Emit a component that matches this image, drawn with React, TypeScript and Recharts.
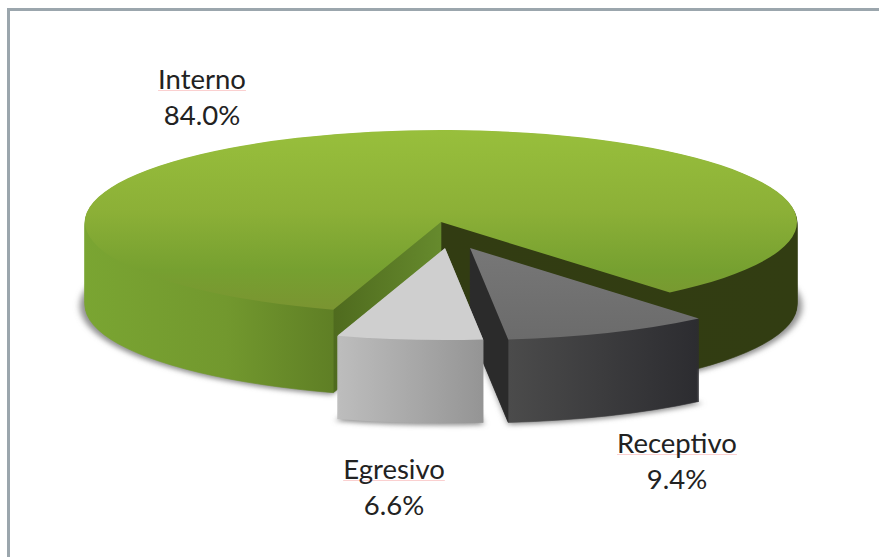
import { Cell, Pie, PieChart } from 'recharts';

const categories = ['Interno', 'Egresivo', 'Receptivo'];
const shares = [84.0, 6.6, 9.4];

const data = categories.map((name, i) => ({ name, value: shares[i] }));

// the pie is drawn round, then the whole chart is squashed to get the tilted ellipse
const SQUASH = 92 / 356;
const WIDTH = 879;
const HEIGHT = 557;
const RADIUS = 356;
const CX = 441;
const CY = 222;
const DEPTH = 83;
const STEP = 1;

const explode = [
  { dx: 0, dy: 0 },
  { dx: 4, dy: 26 },
  { dx: 29, dy: 26 },
];
// Egresivo sits in front of the wall of Receptivo
const drawOrder = [0, 2, 1];
const topFill = ['url(#greenTop)', '#cfcfcf', 'url(#darkTop)'];
const sideFill = ['url(#greenSide)', 'url(#lightSide)', 'url(#darkSide)'];
const labelPos = [
  { x: 202, y: 61 },
  { x: 394, y: 451 },
  { x: 677, y: 425 },
];

const layers: number[] = [];
for (let d = DEPTH; d > 0; d -= STEP) layers.push(d);

function slice(i: number, key: string, dy: number, radius: number, fill: string, filter?: string, edge = 'none') {
  return (
    <Pie
      key={key}
      data={data}
      dataKey="value"
      nameKey="name"
      cx={CX + explode[i].dx}
      cy={(CY + explode[i].dy + dy) / SQUASH}
      outerRadius={radius}
      startAngle={-50}
      endAngle={310}
      stroke="none"
      label={false}
      labelLine={false}
      isAnimationActive={false}
    >
      {data.map((d, j) => (
        <Cell
          key={d.name}
          fill={j === i ? fill : 'none'}
          stroke={j === i ? edge : 'none'}
          strokeWidth={1}
          filter={j === i ? filter : undefined}
        />
      ))}
    </Pie>
  );
}

export default function App() {
  return (
    <div style={{ position: 'absolute', left: 0, top: 0, width: WIDTH, height: HEIGHT, overflow: 'hidden', background: '#fff' }}>
      <div
        style={{
          position: 'absolute',
          left: 7,
          top: 8,
          right: 0,
          bottom: 0,
          borderTop: '3px solid #9ba6ad',
          borderLeft: '3px solid #9ba6ad',
        }}
      />
      <div style={{ position: 'absolute', left: 0, top: 0, transform: `scaleY(${SQUASH})`, transformOrigin: '0 0' }}>
        <PieChart width={WIDTH} height={HEIGHT / SQUASH} margin={{ top: 0, right: 0, bottom: 0, left: 0 }}>
          <defs>
            <linearGradient id="greenTop" x1="0" y1="0" x2="0" y2="1">
              <stop offset="0" stopColor="#98bf3c" />
              <stop offset="0.45" stopColor="#8cb037" />
              <stop offset="0.78" stopColor="#76a030" />
              <stop offset="1" stopColor="#7a9431" />
            </linearGradient>
            <linearGradient id="darkTop" x1="0" y1="0" x2="0" y2="1">
              <stop offset="0" stopColor="#777777" />
              <stop offset="1" stopColor="#6b6b6b" />
            </linearGradient>
            <linearGradient id="greenSide" gradientUnits="userSpaceOnUse" x1="84" y1="0" x2="797" y2="0">
              <stop offset="0" stopColor="#7aa532" />
              <stop offset="0.2" stopColor="#72982e" />
              <stop offset="0.349" stopColor="#5f7f25" />
              <stop offset="0.351" stopColor="#4f6b1e" />
              <stop offset="0.5" stopColor="#668a2d" />
              <stop offset="0.502" stopColor="#323c12" />
              <stop offset="1" stopColor="#323d12" />
            </linearGradient>
            <linearGradient id="lightSide" gradientUnits="userSpaceOnUse" x1="338" y1="0" x2="485" y2="0">
              <stop offset="0" stopColor="#bdbdbd" />
              <stop offset="1" stopColor="#949494" />
            </linearGradient>
            <linearGradient id="darkSide" gradientUnits="userSpaceOnUse" x1="470" y1="0" x2="699" y2="0">
              <stop offset="0" stopColor="#2b2b2b" />
              <stop offset="0.165" stopColor="#2b2b2b" />
              <stop offset="0.17" stopColor="#4b4b4b" />
              <stop offset="1" stopColor="#2c2c30" />
            </linearGradient>
            <filter id="softShadow" x="-10%" y="-10%" width="120%" height="120%">
              <feGaussianBlur stdDeviation="3 11" />
            </filter>
          </defs>
          {drawOrder.map((i) => (
            <>
              {slice(i, `${categories[i]}-shadow`, DEPTH + 1, RADIUS + 5, '#8f8f8f', 'url(#softShadow)')}
              {layers.map((dy) => slice(i, `${categories[i]}-${dy}`, dy, RADIUS, sideFill[i], undefined, sideFill[i]))}
              {slice(i, `${categories[i]}-top`, 0, RADIUS, topFill[i])}
            </>
          ))}
        </PieChart>
      </div>
      {categories.map((name, i) => (
        <div
          key={name}
          style={{
            position: 'absolute',
            left: labelPos[i].x - 100,
            top: labelPos[i].y,
            width: 200,
            textAlign: 'center',
            fontFamily: 'Lato, sans-serif',
            fontSize: 27.5,
            lineHeight: '36px',
            color: '#222222',
          }}
        >
          <div>
            <span
              style={{
                textDecoration: 'underline',
                textDecorationColor: '#fbd0d0',
                textDecorationThickness: 1,
                textUnderlineOffset: 1,
                textDecorationSkipInk: 'none',
              }}
            >
              {name}
            </span>
          </div>
          <div>{shares[i].toFixed(1)}%</div>
        </div>
      ))}
    </div>
  );
}
